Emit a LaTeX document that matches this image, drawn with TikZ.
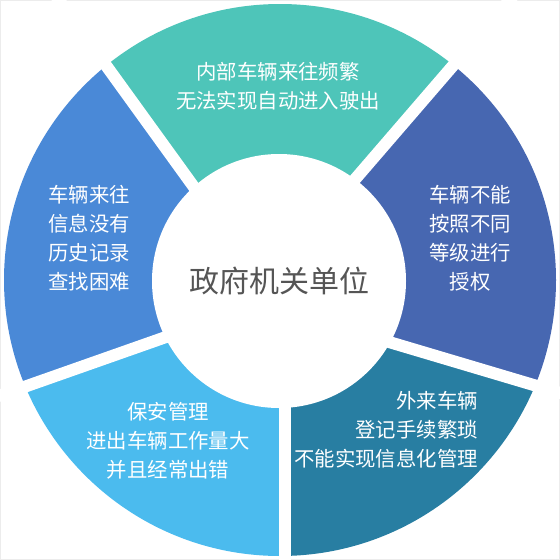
\documentclass[tikz,border=0pt]{standalone}
\usepackage{fontspec}
\newfontfamily\cjk{Noto Sans CJK SC}
\usetikzlibrary{calc}

\definecolor{segteal}{HTML}{4EC5B9}
\definecolor{segblue}{HTML}{4A89D7}
\definecolor{segnavy}{HTML}{4767B1}
\definecolor{segsky}{HTML}{4BBBEE}
\definecolor{segdeep}{HTML}{287EA2}
\definecolor{hubgray}{HTML}{555555}

\tikzset{
  gapline/.style={white, line width=12pt},
  segtext/.style={text=white, inner sep=0pt, font=\cjk\fontsize{20.4}{29}\selectfont},
}

\begin{document}
\begin{tikzpicture}[x=1pt,y=-1pt,every text node part/.style={align=center}]

    \useasboundingbox (0,0) rectangle (560,560);
    \draw[gray!15, line width=1pt] (0.5,0.5) rectangle (559.5,559.5);

    % --------------------------------------------------------- %
    % ------------- boundaries between the segments
    % --------------------------------------------------------- %
    \coordinate (in1) at (191,183);  \coordinate (out1) at (105,64);   % top left
    \coordinate (in2) at (357,177);  \coordinate (out2) at (451,68);   % top right
    \coordinate (in3) at (389,342);  \coordinate (out3) at (537,386);  % right low
    \coordinate (in4) at (285,407);  \coordinate (out4) at (285,557);  % bottom
    \coordinate (in5) at (166,337);  \coordinate (out5) at (24,387);   % left low
    \coordinate (far1) at ($(in1)!2.5!(out1)$);  \coordinate (near1) at ($(in1)!-0.6!(out1)$);
    \coordinate (far2) at ($(in2)!2.5!(out2)$);  \coordinate (near2) at ($(in2)!-0.6!(out2)$);
    \coordinate (far3) at ($(in3)!2.5!(out3)$);  \coordinate (near3) at ($(in3)!-0.6!(out3)$);
    \coordinate (far4) at ($(in4)!2.5!(out4)$);  \coordinate (near4) at ($(in4)!-0.6!(out4)$);
    \coordinate (far5) at ($(in5)!2.5!(out5)$);  \coordinate (near5) at ($(in5)!-0.6!(out5)$);

    % --------------------------------------------------------- %
    % ------------ coloured ring
    % --------------------------------------------------------- %
    \begin{scope}
      \clip (280,280) circle[radius=276pt];
      \fill[segteal] (near1) -- (far1) -- (far2) -- (near2) -- cycle;
      \fill[segnavy] (near2) -- (far2) -- (far3) -- (near3) -- cycle;
      \fill[segdeep] (near3) -- (far3) -- (far4) -- (near4) -- cycle;
      \fill[segsky]  (near4) -- (far4) -- (far5) -- (near5) -- cycle;
      \fill[segblue] (near5) -- (far5) -- (far1) -- (near1) -- cycle;
    \end{scope}
    \draw[gapline] (near1) -- (far1);
    \draw[gapline] (near2) -- (far2);
    \draw[gapline] (near3) -- (far3);
    \draw[gapline] (near4) -- (far4);
    \draw[gapline] (near5) -- (far5);

    % --------------------------------------------------------- %
    % ------------ hub
    % --------------------------------------------------------- %
    \node[circle, fill=white, minimum size=254pt, inner sep=0pt, text=hubgray,
          font=\cjk\fontsize{30}{36}\selectfont] (hub) at (279,281) {政府机关单位};

    % --------------------------------------------------------- %
    % ------------ segment texts
    % --------------------------------------------------------- %
    % --- top
    \node[segtext] (frequent) at (278,86) {内部车辆来往频繁\\无法实现自动进入驶出};
    % --- right
    \node[segtext] (grade) at (470,238) {车辆不能\\按照不同\\等级进行\\授权};
    % --- bottom right
    \node[segtext, anchor=east, every text node part/.style={align=right}] (visitor) at (478,430) {外来车辆\\登记手续繁琐\\不能实现信息化管理};
    % --- bottom left
    \node[segtext] (guard) at (168,441) {保安管理\\进出车辆工作量大\\并且经常出错};
    % --- left
    \node[segtext] (record) at (89,238) {车辆来往\\信息没有\\历史记录\\查找困难};

  \end{tikzpicture}
\end{document}
